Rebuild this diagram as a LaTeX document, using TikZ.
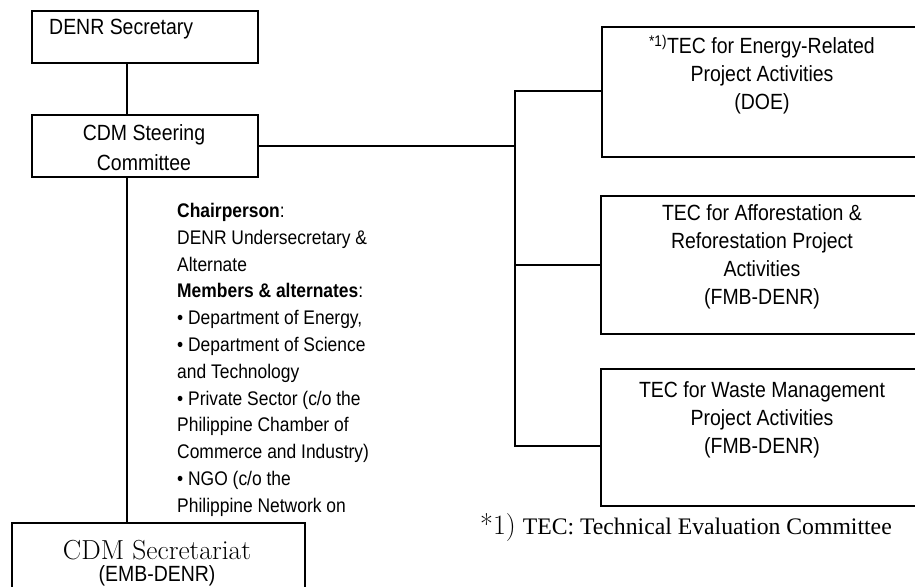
\documentclass[tikz,border=0pt]{standalone}
\usepackage{fontspec}
\newfontfamily\narrowsf[FakeStretch=0.885]{Liberation Sans}
\newfontfamily\timesrm{Liberation Serif}
\begin{document}
\begin{tikzpicture}[x=1pt,y=-1pt,
  box/.style={draw, line width=1.8pt, rectangle, inner sep=0pt, anchor=north west},
  link/.style={line width=1.8pt},
  boxtext/.style={font=\narrowsf\fontsize{22}{28}\selectfont, align=center, inner sep=0pt},
  listtext/.style={font=\narrowsf\fontsize{19.7}{26.8}\selectfont, align=left, inner sep=0pt, anchor=north west}]
\useasboundingbox (0,0) rectangle (915,586);

% left column boxes
\node[box, minimum width=226pt, minimum height=52pt] (sec) at (31,10) {};
\node[boxtext, anchor=west] (secT) at (49,29) {DENR Secretary};
\node[box, minimum width=226pt, minimum height=62pt] (steer) at (31,114) {};
\node[boxtext, font=\narrowsf\fontsize{22}{30}\selectfont] (steerT) at (144,148) {CDM Steering\\Committee};
\node[box, minimum width=293pt, minimum height=80pt] (emb) at (11,522) {};
\node[inner sep=0pt, font=\fontsize{27.5}{27.5}\selectfont] (embT1) at (157,550) {CDM Secretariat};
\node[boxtext] (embT2) at (157,576) {(EMB-DENR)};

% technical evaluation committees
\node[box, minimum width=322pt, minimum height=130pt] (b1) at (601,26) {};
\node[boxtext, anchor=north] (b1T) at (762,35) {\textsuperscript{*1)}TEC for Energy-Related\\Project Activities\\(DOE)};
\node[box, minimum width=323pt, minimum height=138pt] (b2) at (600,195) {};
\node[boxtext, anchor=north] (b2T) at (762,204) {TEC for Afforestation \&\\Reforestation Project\\Activities\\(FMB-DENR)};
\node[box, minimum width=323pt, minimum height=137pt] (b3) at (600,368) {};
\node[boxtext, anchor=north] (b3T) at (762,381) {TEC for Waste Management\\Project Activities\\(FMB-DENR)};

% connectors
\coordinate (spine) at (127,0);
\coordinate (ttop) at (515,91);
\coordinate (tbot) at (515,446);
\draw[link] (sec.south -| spine) -- (steer.north -| spine);
\draw[link] (steer.south -| spine) -- (emb.north -| spine);
\draw[link] (steer.east) -- (steer.east -| ttop);
\draw[link, line cap=rect] (ttop) -- (tbot);
\draw[link] (ttop) -- (ttop -| b1.west);
\draw[link] (b2.west -| ttop) -- (b2.west);
\draw[link] (tbot) -- (tbot -| b3.west);

% membership list
\node[listtext] (members) at (177,203) {\textbf{Chairperson}:\\
DENR Undersecretary \&\\
Alternate\\
\textbf{Members \& alternates}:\\
{\textbullet} Department of Energy,\\
{\textbullet} Department of Science\\
and Technology\\
{\textbullet} Private Sector (c/o the\\
Philippine Chamber of\\
Commerce and Industry)\\
{\textbullet} NGO (c/o the\\
Philippine Network on};

% footnote
\node[anchor=west, inner sep=0pt] (note) at (480,528) {{\fontsize{28}{28}\selectfont *1)}\hspace{7pt}{\timesrm\fontsize{23.7}{24}\selectfont TEC: Technical Evaluation Committee}};
\end{tikzpicture}
\end{document}
